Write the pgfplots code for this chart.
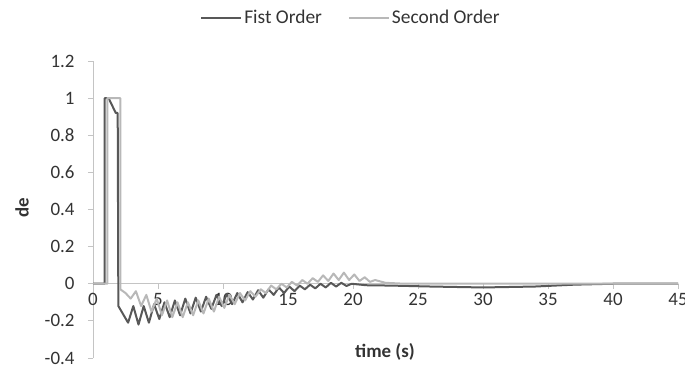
\documentclass[border=0pt]{standalone}
\usepackage{pgfplots}
\pgfplotsset{compat=1.18}
\usepackage{fontspec}
\setmainfont{Carlito}
\definecolor{darkser}{HTML}{585858}
\definecolor{lightser}{HTML}{B8B8B8}
\definecolor{axisgray}{HTML}{C4C4C4}
\definecolor{txt}{HTML}{333333}
\begin{document}
\begin{tikzpicture}
\useasboundingbox (0,0) rectangle (685bp,389bp);
\begin{axis}[
  at={(93bp,31bp)}, anchor=south west,
  scale only axis, width=585bp, height=297bp,
  xmin=0, xmax=45, ymin=-0.4, ymax=1.2,
  axis x line=middle, axis y line=left,
  hide obscured x ticks=false, hide obscured y ticks=false,
  axis line style={axisgray, line width=0.9pt, -},
  xtick={0,5,10,15,20,25,30,35,40,45},
  xticklabels={0,5,10,15,20,25,30,35,40,45},
  ytick={-0.4,-0.2,0,0.2,0.4,0.6,0.8,1,1.2},
  yticklabels={-0.4,-0.2,0,0.2,0.4,0.6,0.8,1,1.2},
  tick style={axisgray, line width=0.9pt},
  major tick length=5bp,
  tick align=outside,
  xticklabel style={font=\fontsize{19}{21}\selectfont, text=txt, yshift=-1bp},
  yticklabel style={font=\fontsize{19}{21}\selectfont, text=txt, xshift=-10bp},
  legend style={at={(0.441,1.145)}, anchor=center, draw=none, fill=none,
    legend columns=2, font=\fontsize{19.5}{21}\selectfont, text=txt,
    /tikz/every even column/.append style={column sep=24bp}},
  legend image code/.code={\draw[#1] (0bp,0bp)--(40bp,0bp);},
  clip=false,
]
\addplot[darkser, line width=2bp, line join=round] coordinates {
(0,0) (0.9,0) (0.9,1) (1.2,1) (1.75,0.92) (1.9,0.92) (1.95,-0.12)
(2.7,-0.21) (3.1,-0.12) (3.5,-0.22) (3.9,-0.12) (4.3,-0.21) (4.7,-0.11)
(5.1,-0.19) (5.5,-0.10) (5.9,-0.18) (6.3,-0.09) (6.7,-0.17) (7.1,-0.08)
(7.5,-0.16) (7.9,-0.075) (8.3,-0.15) (8.7,-0.07) (9.1,-0.135) (9.5,-0.06)
(9.9,-0.12) (10.3,-0.055) (10.7,-0.11) (11.1,-0.05) (11.5,-0.10) (11.9,-0.045)
(12.3,-0.085) (12.7,-0.035) (13.1,-0.075) (13.5,-0.03) (13.9,-0.06) (14.3,-0.02)
(14.7,-0.05) (15.1,-0.015) (15.5,-0.04) (15.9,-0.01) (16.3,-0.03) (16.7,-0.005)
(17.1,-0.025) (17.5,0.0) (17.9,-0.02) (18.3,0.005) (18.7,-0.015) (19.1,0.005)
(19.5,-0.012) (19.9,0.0) (21,-0.008) (23,-0.01) (26,-0.015) (30,-0.02)
(34,-0.015) (37,-0.005) (40,0) (45,0)
};
\addlegendentry{Fist Order}
\addplot[lightser, line width=2bp, line join=round] coordinates {
(0,0) (1.1,0) (1.1,1) (2.1,1) (2.1,-0.03) (2.5,-0.05)
(2.9,-0.08) (3.3,-0.04) (3.7,-0.12) (4.1,-0.06) (4.5,-0.15) (4.9,-0.08)
(5.3,-0.17) (5.7,-0.09) (6.1,-0.18) (6.5,-0.10) (6.9,-0.18) (7.3,-0.10)
(7.7,-0.17) (8.1,-0.09) (8.5,-0.16) (8.9,-0.08) (9.3,-0.15) (9.7,-0.07)
(10.1,-0.13) (10.5,-0.06) (10.9,-0.11) (11.3,-0.05) (11.7,-0.09) (12.1,-0.04)
(12.5,-0.07) (12.9,-0.03) (13.3,-0.05) (13.7,-0.01) (14.1,-0.03) (14.5,0.0)
(14.9,-0.02) (15.3,0.01) (15.7,-0.01) (16.1,0.02) (16.5,0.0) (16.9,0.03)
(17.3,0.01) (17.7,0.045) (18.1,0.015) (18.5,0.055) (18.9,0.02) (19.3,0.06)
(19.7,0.02) (20.1,0.05) (20.5,0.015) (20.9,0.035) (21.3,0.01) (21.7,0.02)
(22.5,0.005) (24,0) (45,0)
};
\addlegendentry{Second Order}
\end{axis}
\node[font=\bfseries\fontsize{19}{21}\selectfont, text=txt] at (385bp,37bp) {time (s)};
\node[font=\bfseries\fontsize{19}{21}\selectfont, text=txt, rotate=90] at (22bp,181bp) {de};
\end{tikzpicture}
\end{document}
